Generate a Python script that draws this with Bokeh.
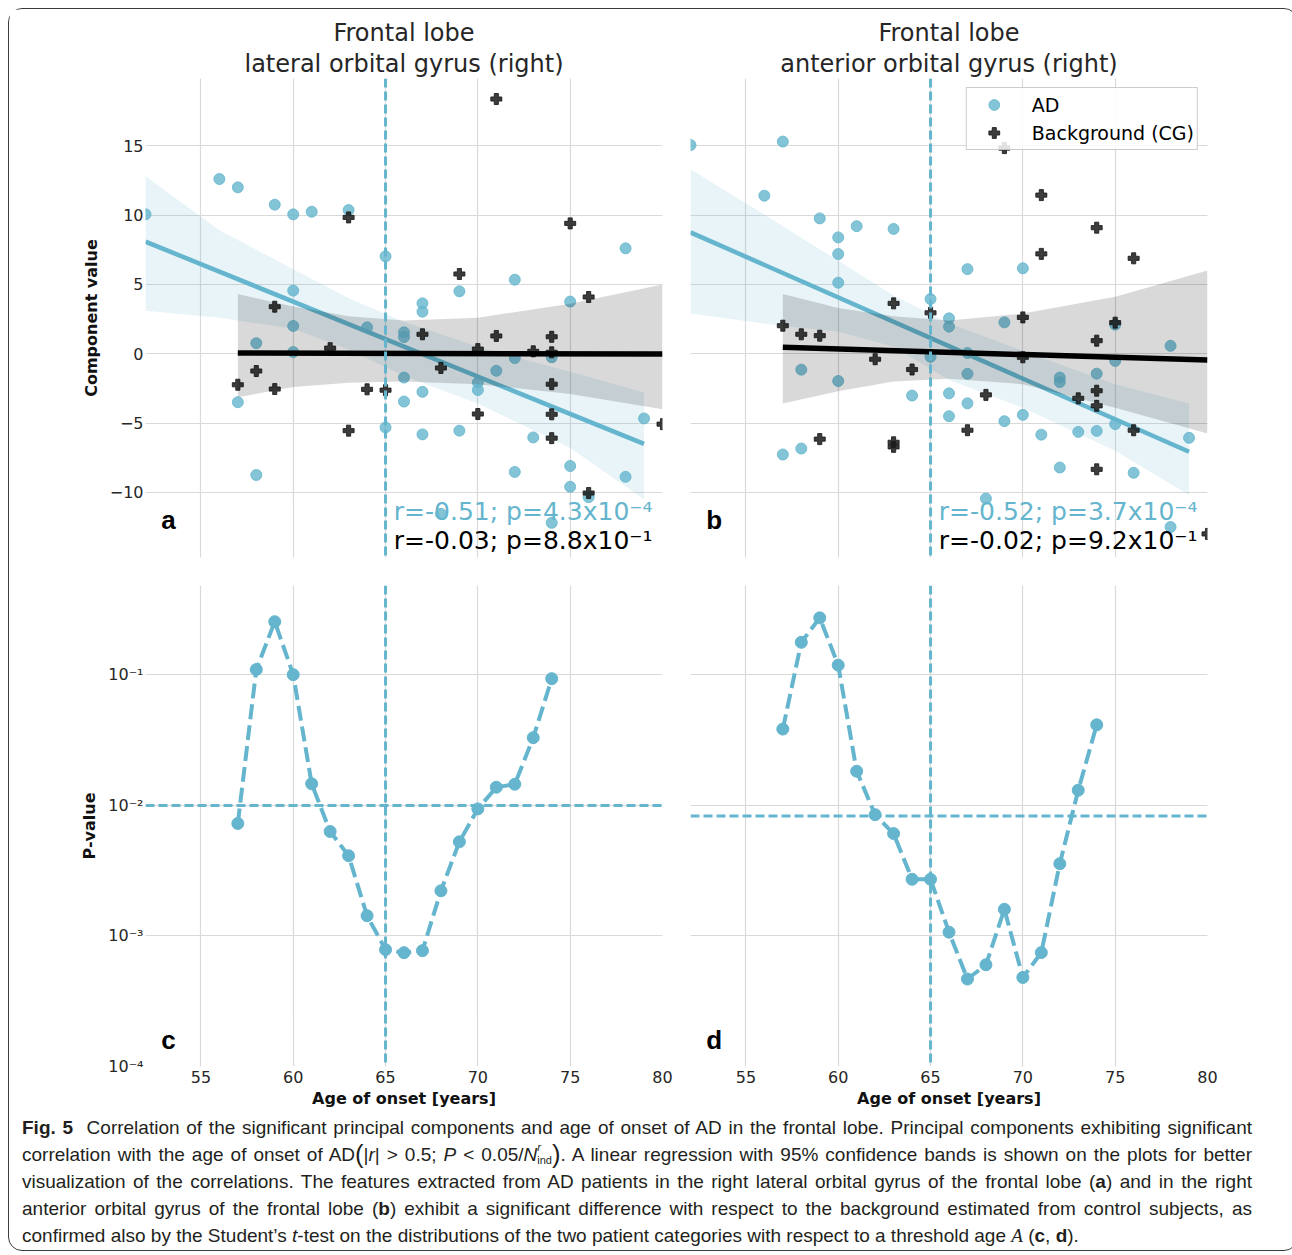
from bokeh.plotting import figure
from bokeh.models import (Range1d, FixedTicker, Grid, Span, Label, Legend, LegendItem,
                          CustomJSTickFormatter, Div, Title)
from bokeh.layouts import row, column
from bokeh.embed import file_html
from bokeh.resources import INLINE

BLUE = "#64b5cd"
INK = "#262626"
GRID = "#d9d9d9"

# ---------------- data: panel a (lateral orbital gyrus, right) ----------------
a_ad_age = [52, 56, 57, 59, 60, 61, 63, 65, 60, 60, 58, 60, 64, 66, 66, 67, 67, 69, 72, 78,
            75, 71, 70, 70, 72, 74, 66, 67, 66, 57, 65, 67, 69, 73, 79, 72, 75, 75, 78, 58,
            68, 74, 76]
a_ad_val = [10.05, 12.6, 12.0, 10.75, 10.05, 10.24, 10.36, 7.02, 4.55, 2.0, 0.76, 0.12, 1.9,
            1.54, 1.2, 3.63, 3.03, 4.5, 5.34, 7.6, 3.76, -1.23, -2.07, -2.62, -0.32, -0.26,
            -1.72, -2.75, -3.45, -3.5, -5.32, -5.82, -5.55, -6.04, -4.67, -8.53, -8.1, -9.6,
            -8.88, -8.75, -11.55, -12.2, -10.35]
a_bg_age = [71, 63, 75, 69, 59, 76, 67, 71, 74, 62, 70, 73, 74, 68, 58, 57, 59, 64, 65, 74,
            70, 74, 74, 63, 80, 76]
a_bg_val = [18.37, 9.83, 9.4, 5.75, 3.39, 4.09, 1.4, 1.28, 1.22, 0.4, 0.33, 0.17, 0.1, -1.03,
            -1.25, -2.24, -2.55, -2.57, -2.63, -2.2, -4.35, -4.37, -6.09, -5.55, -5.08, -10.05]
a_ad_fit_x = [52, 79]
a_ad_fit_y = [8.08, -6.51]
a_bg_fit_x = [57, 80]
a_bg_fit_y = [0.05, -0.03]
a_ad_band_x = [52, 56, 60, 63, 66, 70, 75, 79]
a_ad_band_hi = [12.8, 8.9, 6.1, 4.0, 2.3, 0.5, -1.3, -2.8]
a_ad_band_lo = [3.1, 2.6, 1.8, 0.3, -1.6, -3.6, -6.8, -10.5]
a_bg_band_x = [57, 60, 63, 66, 70, 75, 80]
a_bg_band_hi = [4.3, 3.4, 2.7, 2.4, 2.6, 3.6, 5.0]
a_bg_band_lo = [-3.15, -2.4, -2.1, -2.0, -2.2, -2.9, -4.0]
a_stats_ad = "r=-0.51; p=4.3x10\u207b\u2074"
a_stats_bg = "r=-0.03; p=8.8x10\u207b\u00b9"

# ---------------- data: panel b (anterior orbital gyrus, right) ----------------
b_ad_age = [52, 57, 56, 59, 61, 63, 60, 60, 60, 65, 67, 70, 66, 66, 69, 75, 78, 65, 67, 75,
            58, 60, 67, 72, 72, 74, 64, 66, 67, 66, 69, 70, 75, 71, 73, 74, 79, 57, 58, 72,
            76, 68, 78]
b_ad_val = [15.05, 15.3, 11.4, 9.76, 9.2, 9.0, 8.39, 7.19, 5.12, 3.94, 6.1, 6.16, 2.55, 1.95,
            2.26, 2.09, 0.57, -0.22, 0.05, -0.52, -1.15, -1.97, -1.45, -1.72, -2.05, -1.44,
            -3.02, -2.86, -3.58, -4.51, -4.87, -4.41, -5.08, -5.84, -5.64, -5.57, -6.07,
            -7.27, -6.84, -8.21, -8.59, -10.45, -12.5]
b_bg_age = [69, 71, 74, 71, 76, 63, 65, 70, 75, 57, 58, 59, 74, 62, 64, 70, 68, 73, 74, 74,
            76, 67, 59, 63, 63, 74, 80]
b_bg_val = [14.83, 11.44, 9.09, 7.2, 6.88, 3.63, 2.95, 2.62, 2.24, 2.02, 1.4, 1.3, 0.94,
            -0.4, -1.14, -0.26, -2.97, -3.22, -2.67, -3.76, -5.52, -5.52, -6.16, -6.39,
            -6.72, -8.34, -13.0]
b_ad_fit_x = [52, 79]
b_ad_fit_y = [8.75, -7.07]
b_bg_fit_x = [57, 80]
b_bg_fit_y = [0.46, -0.46]
b_ad_band_x = [52, 57, 60, 63, 66, 70, 75, 79]
b_ad_band_hi = [13.3, 9.2, 6.7, 4.2, 2.2, 0.2, -2.2, -3.6]
b_ad_band_lo = [2.9, 2.0, 1.6, 0.5, -1.9, -3.9, -7.0, -10.2]
b_bg_band_x = [57, 60, 63, 66, 70, 75, 80]
b_bg_band_hi = [4.3, 3.3, 2.7, 2.4, 2.9, 4.1, 6.0]
b_bg_band_lo = [-3.6, -2.7, -2.0, -1.8, -2.2, -3.9, -5.75]
b_stats_ad = "r=-0.52; p=3.7x10\u207b\u2074"
b_stats_bg = "r=-0.02; p=9.2x10\u207b\u00b9"

# ---------------- data: panels c, d (t-test p-values vs threshold age) ----------------
onset_ages = [57, 58, 59, 60, 61, 62, 63, 64, 65, 66, 67, 68, 69, 70, 71, 72, 73, 74]
pval_c = [0.00728, 0.110, 0.256, 0.1006, 0.01466, 0.00632, 0.00412, 0.00143, 0.000786,
          0.000745, 0.000772, 0.00222, 0.00527, 0.00942, 0.0138, 0.01455, 0.0331, 0.0937]
pval_d = [0.0385, 0.178, 0.274, 0.119, 0.0183, 0.0085, 0.00609, 0.00272, 0.00272, 0.00107,
          0.000468, 0.000602, 0.0016, 0.000481, 0.000746, 0.00358, 0.0131, 0.0415]
threshold_c = 0.01
threshold_d = 0.0083
age_threshold = 65

x_ticks = [55, 60, 65, 70, 75, 80]
comp_ticks = [-10, -5, 0, 5, 10, 15]
log_ticks = [1e-4, 1e-3, 1e-2, 1e-1]
title_a = ["Frontal lobe", "lateral orbital gyrus (right)"]
title_b = ["Frontal lobe", "anterior orbital gyrus (right)"]

X_LO, X_HI = 52, 80
Y_LO, Y_HI = -14.7, 19.85
P_LO, P_HI = 1e-4, 0.485

FW, FH_TOP, FH_BOT = 517, 479, 481

minus_fmt = CustomJSTickFormatter(code="return tick < 0 ? '\\u2212' + Math.abs(tick) : String(tick);")
log_fmt = CustomJSTickFormatter(code="""
const e = Math.round(Math.log10(tick));
const m = {'-':'\\u207b','0':'\\u2070','1':'\\u00b9','2':'\\u00b2','3':'\\u00b3','4':'\\u2074','5':'\\u2075'};
return '10' + String(e).split('').map(c => m[c]).join('');
""")


def style_axis(ax, label, ticks, fmt, label_standoff=1, title_standoff=5):
    ax.ticker = FixedTicker(ticks=ticks)
    if fmt is not None:
        ax.formatter = fmt
    ax.axis_line_color = None
    ax.major_tick_line_color = None
    ax.minor_tick_line_color = None
    ax.major_tick_in = 0
    ax.major_tick_out = 0
    ax.minor_tick_in = 0
    ax.minor_tick_out = 0
    ax.major_label_text_font = "DejaVu Sans"
    ax.major_label_text_font_size = "16px"
    ax.major_label_text_color = INK
    ax.major_label_standoff = label_standoff
    ax.axis_label = label
    ax.axis_label_text_font = "DejaVu Sans"
    ax.axis_label_text_font_style = "bold"
    ax.axis_label_text_font_size = "16px"
    ax.axis_label_text_color = "#111111"
    ax.axis_label_standoff = title_standoff


def make_fig(left, right, top, bottom, log=False, xaxis=False, yaxis=False, fh=FH_TOP):
    kw = dict(frame_width=FW, frame_height=fh, title=None,
              min_border_left=left, min_border_right=right,
              min_border_top=top, min_border_bottom=bottom,
              x_range=Range1d(X_LO, X_HI),
              output_backend="svg", toolbar_location=None, tools="",
              x_axis_location="below" if xaxis else None,
              y_axis_location="left" if yaxis else None)
    if log:
        kw["y_axis_type"] = "log"
        kw["y_range"] = Range1d(P_LO, P_HI)
    else:
        kw["y_range"] = Range1d(Y_LO, Y_HI)
    p = figure(**kw)
    p.outline_line_color = None
    p.background_fill_color = "white"
    p.border_fill_color = "white"
    yt = log_ticks if log else comp_ticks
    if not xaxis:
        p.add_layout(Grid(dimension=0, ticker=FixedTicker(ticks=x_ticks),
                          grid_line_color=GRID, grid_line_width=1.2))
    else:
        p.xgrid.ticker = FixedTicker(ticks=x_ticks)
        p.xgrid.grid_line_color = GRID
        p.xgrid.grid_line_width = 1.2
    if not yaxis:
        p.add_layout(Grid(dimension=1, ticker=FixedTicker(ticks=yt),
                          grid_line_color=GRID, grid_line_width=1.2))
    else:
        p.ygrid.ticker = FixedTicker(ticks=yt)
        p.ygrid.grid_line_color = GRID
        p.ygrid.grid_line_width = 1.2
    return p


def add_titles(p, lines):
    # first added sits closest to the frame
    for i, txt in enumerate(reversed(lines)):
        p.add_layout(Title(text=txt, align="center", text_font="DejaVu Sans",
                           text_font_style="normal", text_font_size="24px",
                           text_color=INK, standoff=2 if i == 0 else 0), "above")


def regression_panel(p, ad_x, ad_y, bg_x, bg_y, adfx, adfy, bgfx, bgfy,
                     adbx, adbh, adbl, bgbx, bgbh, bgbl, s_ad, s_bg, letter):
    ad_r = p.scatter(ad_x, ad_y, marker="circle", size=11, fill_color=BLUE,
                     line_color=BLUE, fill_alpha=0.8, line_alpha=0.8)
    p.varea(x=adbx, y1=adbl, y2=adbh, fill_color=BLUE, fill_alpha=0.15)
    p.line(adfx, adfy, line_color=BLUE, line_width=4.5)
    bg_r = p.scatter(bg_x, bg_y, marker="plus", size=11, fill_color="#1a1a1a",
                     line_color="#1a1a1a", fill_alpha=0.85, line_alpha=0.85)
    p.varea(x=bgbx, y1=bgbl, y2=bgbh, fill_color="black", fill_alpha=0.15)
    p.line(bgfx, bgfy, line_color="black", line_width=5.5)
    p.add_layout(Span(location=age_threshold, dimension="height", line_color=BLUE,
                      line_width=3, line_dash="9 4"))
    p.add_layout(Label(x=65.45, y=-11.35, text=s_ad, text_font="DejaVu Sans",
                       text_font_size="25px", text_color=BLUE, text_baseline="middle"))
    p.add_layout(Label(x=65.45, y=-13.45, text=s_bg, text_font="DejaVu Sans",
                       text_font_size="25px", text_color="black", text_baseline="middle"))
    p.add_layout(Label(x=52.85, y=-12.0, text=letter, text_font="Liberation Sans",
                       text_font_style="bold", text_font_size="26px", text_color="black",
                       text_baseline="middle"))
    return ad_r, bg_r


def pvalue_panel(p, yvals, thr, letter):
    p.line(onset_ages, yvals, line_color=BLUE, line_width=4, line_dash="15 6")
    p.scatter(onset_ages, yvals, marker="circle", size=12, fill_color=BLUE, line_color=BLUE)
    p.add_layout(Span(location=thr, dimension="width", line_color=BLUE,
                      line_width=3, line_dash="9 4"))
    p.add_layout(Span(location=age_threshold, dimension="height", line_color=BLUE,
                      line_width=3, line_dash="9 4"))
    p.add_layout(Label(x=52.85, y=1.6e-4, text=letter, text_font="Liberation Sans",
                       text_font_style="bold", text_font_size="26px", text_color="black",
                       text_baseline="middle"))


# ---- panel a ----
p_a = make_fig(136, 14, 69, 14, yaxis=True)
add_titles(p_a, title_a)
style_axis(p_a.yaxis[0], "Component value", comp_ticks, minus_fmt, 2, 6)
regression_panel(p_a, a_ad_age, a_ad_val, a_bg_age, a_bg_val, a_ad_fit_x, a_ad_fit_y,
                 a_bg_fit_x, a_bg_fit_y, a_ad_band_x, a_ad_band_hi, a_ad_band_lo,
                 a_bg_band_x, a_bg_band_hi, a_bg_band_lo, a_stats_ad, a_stats_bg, "a")

# ---- panel b ----
p_b = make_fig(14, 80, 69, 14)
add_titles(p_b, title_b)
ad_b, bg_b = regression_panel(p_b, b_ad_age, b_ad_val, b_bg_age, b_bg_val, b_ad_fit_x,
                              b_ad_fit_y, b_bg_fit_x, b_bg_fit_y, b_ad_band_x, b_ad_band_hi,
                              b_ad_band_lo, b_bg_band_x, b_bg_band_hi, b_bg_band_lo,
                              b_stats_ad, b_stats_bg, "b")
legend = Legend(items=[LegendItem(label="AD", renderers=[ad_b]),
                       LegendItem(label="Background (CG)", renderers=[bg_b])],
                location="top_right", margin=9, padding=3, spacing=1,
                glyph_width=48, glyph_height=27, label_height=20, label_standoff=14,
                label_text_font="DejaVu Sans", label_text_font_size="19px",
                label_text_color="black", border_line_color="#9a9a9a",
                border_line_width=1.2, background_fill_color="white",
                background_fill_alpha=0.85)
p_b.add_layout(legend)

# ---- panel c ----
p_c = make_fig(136, 14, 14, 40, log=True, xaxis=True, yaxis=True, fh=FH_BOT)
style_axis(p_c.yaxis[0], "P-value", log_ticks, log_fmt, 2, 6)
style_axis(p_c.xaxis[0], "Age of onset [years]", x_ticks, None, 4, 3)
pvalue_panel(p_c, pval_c, threshold_c, "c")

# ---- panel d ----
p_d = make_fig(14, 80, 14, 40, log=True, xaxis=True, fh=FH_BOT)
style_axis(p_d.xaxis[0], "Age of onset [years]", x_ticks, None, 4, 3)
pvalue_panel(p_d, pval_d, threshold_d, "d")

# ---- caption ----
cap_lines = [
    "<b>Fig. 5</b>&nbsp; Correlation of the significant principal components and age of onset of AD in the frontal lobe. Principal components exhibiting significant",
    "correlation with the age of onset of AD<span style='font-size:1.35em;vertical-align:-0.08em'>(</span>|<i>r</i>| &gt; 0.5; <i>P</i> &lt; 0.05/<i>N</i>"
    "<span style='display:inline-block;vertical-align:-0.3em;font-size:11px;line-height:13px;text-align:left'><i>r</i><br>ind</span>"
    "<span style='font-size:1.35em;vertical-align:-0.08em'>)</span>. A linear regression with 95% confidence bands is shown on the plots for better",
    "visualization of the correlations. The features extracted from AD patients in the right lateral orbital gyrus of the frontal lobe (<b>a</b>) and in the right",
    "anterior orbital gyrus of the frontal lobe (<b>b</b>) exhibit a significant difference with respect to the background estimated from control subjects, as",
    "confirmed also by the Student\u2019s <i>t</i>-test on the distributions of the two patient categories with respect to a threshold age "
    "<i style=\"font-family:'Liberation Serif',serif\">A</i> (<b>c</b>, <b>d</b>).",
]
line_div = ("<div style='width:1230px;height:27px;line-height:27px;white-space:nowrap;"
            "text-align:justify;text-align-last:%s'>%s</div>")
cap_html = ("<div style=\"position:relative;top:-1px;padding:0 0 0 8px;"
            "font-family:'Liberation Sans',sans-serif;font-size:19px;color:#231f20;\">"
            + "".join(line_div % ("justify" if i < len(cap_lines) - 1 else "left", l)
                      for i, l in enumerate(cap_lines))
            + "</div>")
caption = Div(text=cap_html, width=1278, height=130)

root = column(row(p_a, p_b), row(p_c, p_d), caption,
              styles={"margin-left": "8px", "margin-top": "8px",
                      "border": "1.5px solid #3c3c3c", "border-radius": "14px",
                      "background": "white"})

open("out.html", "w").write(file_html(root, INLINE))
